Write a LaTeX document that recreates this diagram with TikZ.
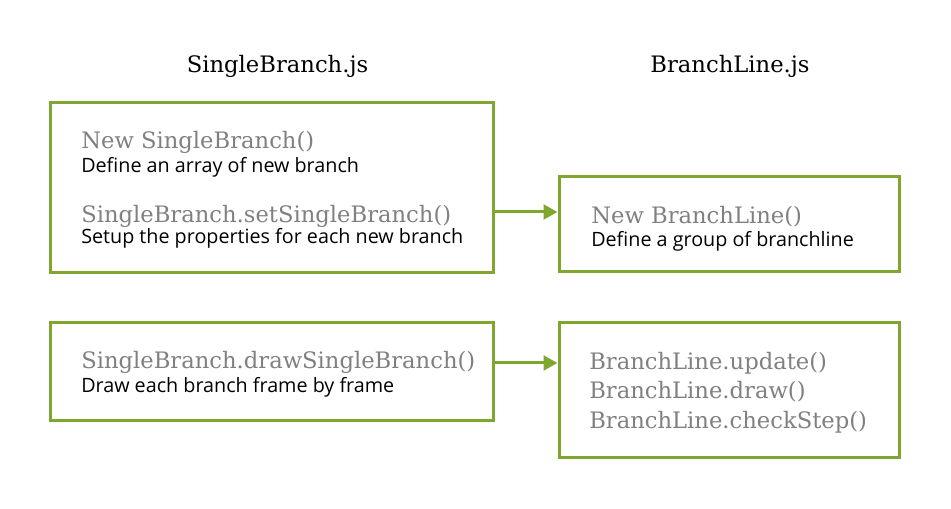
\documentclass[tikz,border=0pt]{standalone}
\usepackage{fontspec}
\setmainfont{Open Sans}
\newfontfamily\slabfont{DejaVu Serif}
\usetikzlibrary{arrows.meta}
\definecolor{mgreen}{RGB}{127, 166, 46}
\definecolor{mgray}{RGB}{128, 128, 128}

\begin{document}
\begin{tikzpicture}[x=0.75pt, y=-0.75pt,
    box/.style={draw=mgreen, line width=2.25pt, inner sep=0pt},
    code/.style={anchor=base west, inner sep=0pt, text=mgray, font=\slabfont\fontsize{17}{20}\selectfont},
    note/.style={anchor=base west, inner sep=0pt, font=\fontsize{14.8}{17}\selectfont},
    heading/.style={anchor=base, inner sep=0pt, font=\slabfont\fontsize{17}{20}\selectfont},
    flow/.style={-{Triangle[length=10.5pt, width=11pt]}, draw=mgreen, line width=2.25pt}]
    \useasboundingbox (0, 0) rectangle (951, 509);

    \node [heading] (singlejs) at (277.5, 73) {SingleBranch.js};
    \node [heading] (linejs) at (730, 73) {BranchLine.js};

    \node [box, minimum width=332.25pt, minimum height=127.5pt] (setup) at (272, 187.5) {};
    \node [box, minimum width=255pt, minimum height=71.25pt] (create) at (729, 224.5) {};
    \node [box, minimum width=332.25pt, minimum height=73.5pt] (render) at (272, 372) {};
    \node [box, minimum width=255pt, minimum height=101.25pt] (loop) at (729, 390.5) {};

    \node [code] (newsingle) at (81, 149) {New SingleBranch()};
    \node [note] (newsinglenote) at (81, 173) {Define an array of new branch};
    \node [code] (setsingle) at (81, 223) {SingleBranch.setSingleBranch()};
    \node [note] (setsinglenote) at (81, 244) {Setup the properties for each new branch};

    \node [code] (newline) at (591, 224) {New BranchLine()};
    \node [note] (newlinenote) at (591, 247) {Define a group of branchline};

    \node [code] (drawsingle) at (81, 369) {SingleBranch.drawSingleBranch()};
    \node [note] (drawsinglenote) at (81, 393) {Draw each branch frame by frame};

    \node [code] (update) at (589, 370) {BranchLine.update()};
    \node [code] (drawline) at (589, 399) {BranchLine.draw()};
    \node [code] (check) at (589, 429) {BranchLine.checkStep()};

    \draw [flow] (setup.east |- 0, 212) -- (create.west |- 0, 212);
    \draw [flow] (render.east |- 0, 363) -- (loop.west |- 0, 363);
  \end{tikzpicture}
\end{document}
